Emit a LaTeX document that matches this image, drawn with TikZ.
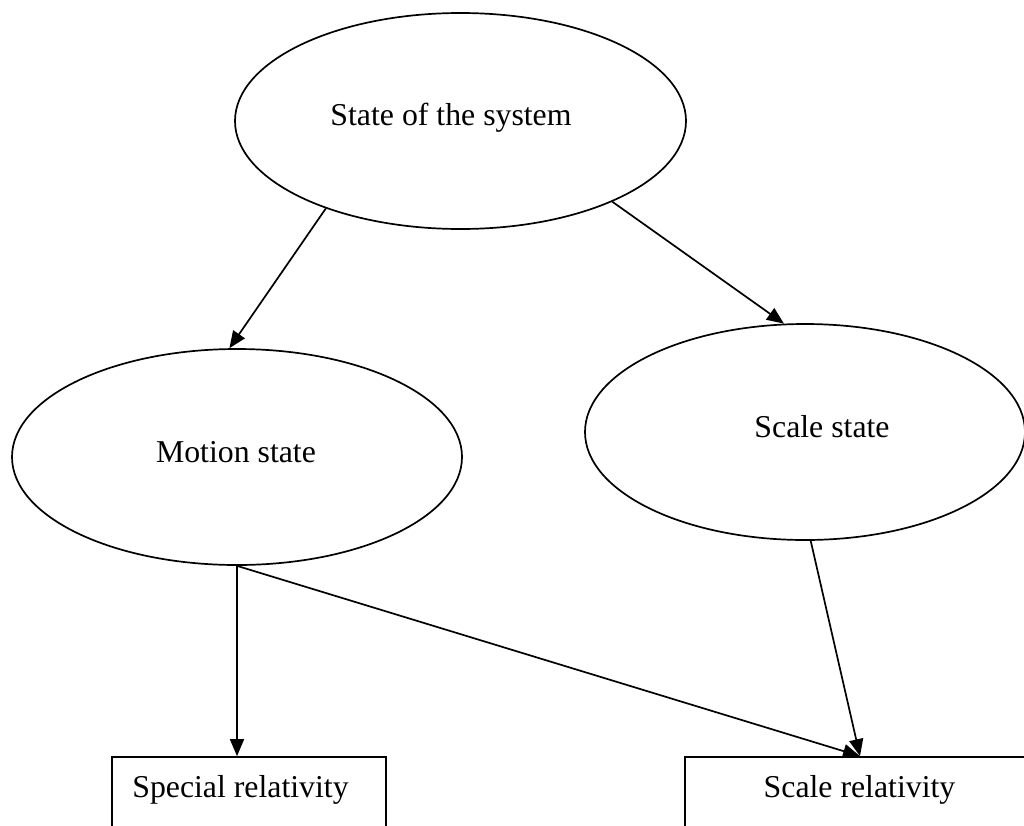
\documentclass[tikz,border=0pt]{standalone}
\usepackage{fontspec}
\setmainfont{Liberation Serif}
\usetikzlibrary{arrows.meta,shapes.geometric}
\tikzset{
  stateell/.style={draw=black, line width=1.7pt, ellipse, inner sep=0pt},
  relbox/.style={draw=black, line width=1.7pt, rectangle, inner sep=0pt},
  lbl/.style={anchor=base, inner sep=0pt, font=\fontsize{31.8}{38}\selectfont},
  conn/.style={line width=1.7pt, -{Triangle[length=17pt,width=14pt]}}
}
\begin{document}
\begin{tikzpicture}[x=1pt,y=-1pt]
\useasboundingbox (0,0) rectangle (1024,825);
\clip (0,0) rectangle (1024,825);
\fill[white] (0,0) rectangle (1024,825);
% ellipses
\node[stateell, minimum width=451pt, minimum height=216pt] (sys) at (460.5,121) {};
\node[stateell, minimum width=450pt, minimum height=216pt] (mot) at (237,457) {};
\node[stateell, minimum width=440pt, minimum height=216pt] (scl) at (805,432) {};
% boxes
\node[relbox, minimum width=274pt, minimum height=100pt] (sr) at (249,807) {};
\node[relbox, minimum width=350pt, minimum height=100pt] (scr) at (860,807) {};
% labels
\node[lbl] (sysl) at (451,125) {State of the system};
\node[lbl] (motl) at (236,462) {Motion state};
\node[lbl] (scll) at (822,437) {Scale state};
\node[lbl] (srl) at (240.5,797) {Special relativity};
\node[lbl] (scrl) at (859.5,797) {Scale relativity};
% connectors
\draw[conn] (sys.213) -- (mot.94);
\draw[conn] (sys.-28) -- (scl.101);
\draw[conn] (mot.south) -- (mot.south |- sr.north);
\draw[conn] (mot.south) -- (scr.north);
\draw[conn] (scl.-87) -- (scr.north);
\end{tikzpicture}
\end{document}
